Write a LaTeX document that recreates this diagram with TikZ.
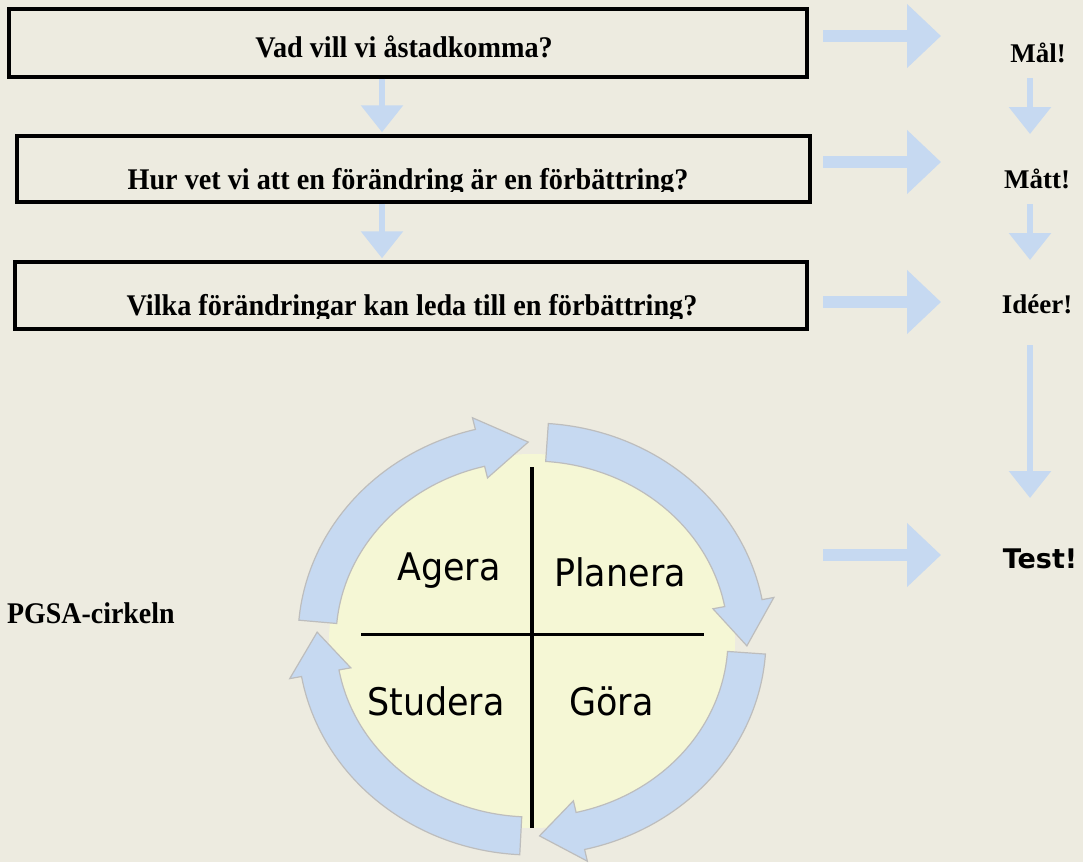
\documentclass[tikz,border=0pt]{standalone}
\usepackage{fontspec}
\setmainfont{Liberation Serif}
\newfontfamily\vsans{DejaVu Sans}
\usetikzlibrary{arrows.meta,calc}
\definecolor{bgc}{HTML}{EDEBE0}
\definecolor{arrc}{HTML}{C6D9F1}
\definecolor{circc}{HTML}{F5F7D5}
\definecolor{ringline}{HTML}{BDBDBD}
\tikzset{
 qbox/.style={draw=black, line width=3.5pt, inner sep=0pt},
 qtext/.style={anchor=base, inner sep=0pt, xscale=0.94, transform shape, font=\fontsize{30}{33}\selectfont\bfseries},
 lbl/.style={anchor=base, inner sep=0pt, font=\fontsize{27}{30}\selectfont\bfseries},
 bigarr/.style={draw=arrc, line width=12pt, -{Triangle[width=62pt,length=34pt]}},
 smallarr/.style={draw=arrc, line width=6pt, -{Triangle[width=41pt,length=27pt]}},
 ringarr/.style={fill=arrc, draw=ringline, line width=1.2pt, line join=miter},
 pdsa/.style={anchor=base west, inner sep=0pt, xscale=0.92, transform shape, font=\vsans\fontsize{38}{44}\selectfont},
}
\newcommand\ringarrow[3]{%
 \filldraw[ringarr] ($(C)+(#1:234pt and 216pt)$)
  arc[start angle=#1,end angle=#2,x radius=234pt,y radius=216pt]
  -- ($(C)+(#2:246pt and 228pt)$) -- ($(C)+(#3:215pt and 197pt)$)
  -- ($(C)+(#2:184pt and 166pt)$) -- ($(C)+(#2:196pt and 178pt)$)
  arc[start angle=#2,end angle=#1,x radius=196pt,y radius=178pt] -- cycle;}
\begin{document}
\begin{tikzpicture}[x=1pt,y=1pt]
\useasboundingbox (0,0) rectangle (1083,-862);
\fill[bgc] (0,0) rectangle (1083,-862);

% coordinates for connectors
\coordinate (dx) at (382,0);
\coordinate (h1a) at (823,-36);  \coordinate (h1b) at (941,-36);
\coordinate (h2a) at (823,-162); \coordinate (h2b) at (941,-162);
\coordinate (h3a) at (823,-302); \coordinate (h3b) at (941,-302);
\coordinate (h4a) at (823,-555); \coordinate (h4b) at (941,-555);
\coordinate (v1a) at (1030,-78);  \coordinate (v1b) at (1030,-134);
\coordinate (v2a) at (1030,-204); \coordinate (v2b) at (1030,-260);
\coordinate (v3a) at (1030,-345); \coordinate (v3b) at (1030,-498);

% boxes
\node[qbox, minimum width=798, minimum height=68] (b1) at (408,-43) {};
\node[qbox, minimum width=793, minimum height=66] (b2) at (413.5,-169) {};
\node[qbox, minimum width=792, minimum height=67] (b3) at (411,-295.5) {};

% connectors
\draw[smallarr] (b1.south -| dx) -- ([yshift=2pt]b2.north -| dx);
\draw[smallarr] (b2.south -| dx) -- ([yshift=2pt]b3.north -| dx);
\draw[bigarr] (h1a) -- (h1b);
\draw[bigarr] (h2a) -- (h2b);
\draw[bigarr] (h3a) -- (h3b);
\draw[bigarr] (h4a) -- (h4b);
\draw[smallarr] (v1a) -- (v1b);
\draw[smallarr] (v2a) -- (v2b);
\draw[smallarr] (v3a) -- (v3b);

% box texts
\node[qtext] (t1) at (404,-57) {Vad vill vi åstadkomma?};
\begin{scope}
 \clip (0,-120) rectangle (1083,-191.5);
 \node[qtext] (t2) at (408,-189) {Hur vet vi att en förändring är en förbättring?};
\end{scope}
\begin{scope}
 \clip (0,-250) rectangle (1083,-318);
 \node[qtext] (t3) at (412,-315) {Vilka förändringar kan leda till en förbättring?};
\end{scope}

% right labels
\node[lbl] (l1) at (1038,-62) {Mål!};
\node[lbl] (l2) at (1037,-188) {Mått!};
\node[lbl] (l3) at (1037,-313) {Idéer!};
\node[anchor=base, inner sep=0pt, font=\vsans\bfseries\fontsize{27}{30}\selectfont] (l4) at (1040,-568) {Test!};

% PGSA label
\node[anchor=base west, inner sep=0pt, xscale=0.93, transform shape, font=\fontsize{30}{33}\selectfont\bfseries] (pg) at (7,-623) {PGSA-cirkeln};

% cycle
\fill[circc] (532,-641) ellipse [x radius=203, y radius=187];
\coordinate (C) at (532,-639);
\ringarrow{175}{104}{91}
\ringarrow{86}{10.5}{-2}
\ringarrow{-4}{-77}{-88}
\ringarrow{267}{190}{178}
\draw[line width=4pt] (532,-467) -- (532,-828);
\draw[line width=3pt] (361,-634) -- (704,-634);
\node[pdsa] (ag) at (397,-580) {Agera};
\node[pdsa] (pl) at (554,-586) {Planera};
\node[pdsa] (st) at (367,-715) {Studera};
\node[pdsa] (go) at (569,-715) {Göra};
\end{tikzpicture}
\end{document}
